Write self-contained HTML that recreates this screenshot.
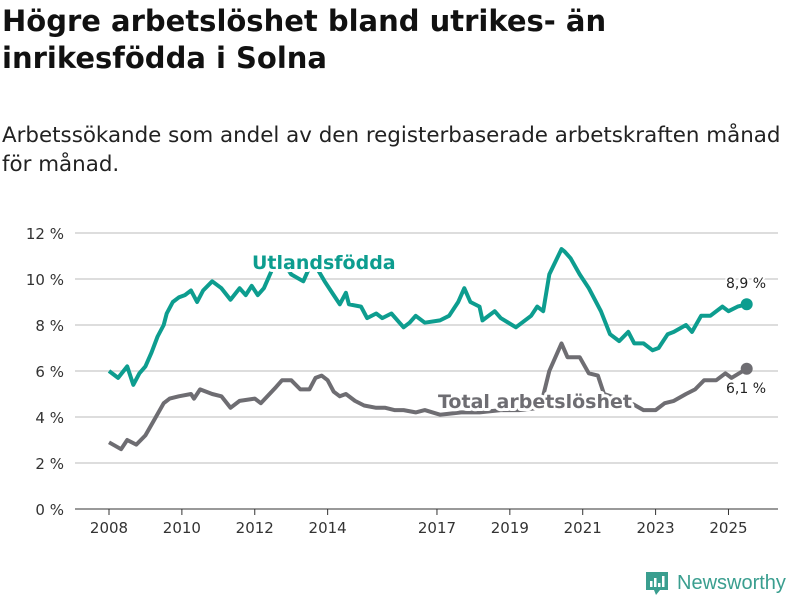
<!DOCTYPE html>
<html><head><meta charset="utf-8"><style>
body{margin:0;background:#fff;width:800px;height:600px;overflow:hidden;font-family:"DejaVu Sans","Liberation Sans",sans-serif;}
h1{position:absolute;left:2px;top:3px;margin:0;font-size:29px;line-height:37px;font-weight:bold;color:#111;width:795px;white-space:nowrap;}
.sub{position:absolute;left:2px;top:121px;font-size:21.4px;line-height:29px;color:#222;width:798px;white-space:nowrap;}
svg{position:absolute;left:0;top:0;}
</style></head><body>
<h1>Högre arbetslöshet bland utrikes- än<br>inrikesfödda i Solna</h1>
<div class="sub">Arbetssökande som andel av den registerbaserade arbetskraften månad<br>för månad.</div>
<svg id="chart" width="800" height="600"></svg>
<script>
const yTicks=[0,2,4,6,8,10,12];
const xTickYears=[2008,2010,2012,2014,2017,2019,2021,2023,2025];
const utlMonths=[0,3,6,8,10,12,14,16,18,19,21,23,25,27,29,31,34,37,40,43,45,47,49,51,54,56,60,64,67,71,74,76,78,79,83,85,88,90,93,95,97,99,101,104,109,112,115,117,119,122,123,127,129,134,139,141,143,145,149,150,152,155,158,162,165,168,171,173,176,179,181,184,186,190,192,195,198,202,204,207,210];
const utlValues=[6.0,5.7,6.2,5.4,5.9,6.2,6.8,7.5,8.0,8.5,9.0,9.2,9.3,9.5,9.0,9.5,9.9,9.6,9.1,9.6,9.3,9.7,9.3,9.6,10.5,11.0,10.2,9.9,10.8,9.9,9.3,8.9,9.4,8.9,8.8,8.3,8.5,8.3,8.5,8.2,7.9,8.1,8.4,8.1,8.2,8.4,9.0,9.6,9.0,8.8,8.2,8.6,8.3,7.9,8.4,8.8,8.6,10.2,11.3,11.2,10.9,10.2,9.6,8.6,7.6,7.3,7.7,7.2,7.2,6.9,7.0,7.6,7.7,8.0,7.7,8.4,8.4,8.8,8.6,8.8,8.9];
const totMonths=[0,4,6,9,12,15,18,20,23,27,28,30,34,37,40,43,48,50,55,57,60,63,66,68,70,72,74,76,78,81,84,88,91,94,97,101,104,109,116,122,129,135,142,145,149,151,155,158,161,163,172,176,180,183,186,190,193,196,200,203,205,210];
const totValues=[2.9,2.6,3.0,2.8,3.2,3.9,4.6,4.8,4.9,5.0,4.8,5.2,5.0,4.9,4.4,4.7,4.8,4.6,5.3,5.6,5.6,5.2,5.2,5.7,5.8,5.6,5.1,4.9,5.0,4.7,4.5,4.4,4.4,4.3,4.3,4.2,4.3,4.1,4.2,4.2,4.3,4.3,4.4,6.0,7.2,6.6,6.6,5.9,5.8,5.0,4.6,4.3,4.3,4.6,4.7,5.0,5.2,5.6,5.6,5.9,5.7,6.1];
const NS='http://www.w3.org/2000/svg';
const svg=document.getElementById('chart');
const xS=m=>109+m*(36.44/12);
const yS=v=>509-v*23;
function el(t,a,p){const e=document.createElementNS(NS,t);for(const k in a)e.setAttribute(k,a[k]);(p||svg).appendChild(e);return e;}
yTicks.forEach(v=>{
  const g=el('line',{x1:75,x2:778,y1:yS(v),y2:yS(v),stroke:v===0?'#333':'#ddd','stroke-width':v===0?1:2});
  
  
  const t=el('text',{x:64,y:yS(v)+6,'text-anchor':'end','font-size':15,fill:'#333'});
  t.textContent=v+' %';
  
  
});
xTickYears.forEach(y=>{
  const x=xS((y-2008)*12);
  const l=el('line',{x1:x,x2:x,y1:509,y2:515,stroke:'#333'});
  
  
  const t=el('text',{x:x,y:533,'text-anchor':'middle','font-size':15,fill:'#333'});
  t.textContent=y;
  
  
});
function series(ms,vs,color,name){
  const d=ms.map((m,i)=>(i?'L':'M')+xS(m).toFixed(1)+','+yS(vs[i]).toFixed(1)).join('');
  const p=el('path',{d:d,fill:'none',stroke:color,'stroke-width':4,'stroke-linejoin':'round'});
  
  
  const n=ms.length-1;
  const c=el('circle',{cx:xS(ms[n]),cy:yS(vs[n]),r:6,fill:color});
  
  
}
series(totMonths,totValues,'#6e6d72','total');
series(utlMonths,utlValues,'#0d9d8f','utlandsfodda');
function label(txt,x,y,color,size,bold,name,anchor){
  const t=el('text',{x:x,y:y,'font-size':size,'font-weight':bold?'bold':'normal',fill:color,stroke:'#fff','stroke-width':bold?6:4,'paint-order':'stroke','stroke-linejoin':'round','text-anchor':anchor||'start'});
  t.textContent=txt;
  
  
}
label('Utlandsfödda',252,269,'#0d9d8f',19,true,'utlandsfodda-label');
label('Total arbetslöshet',438,408,'#6e6d72',19,true,'total-label');
label('8,9 %',746,288,'#222',14,false,'utlandsfodda-end-value','middle');
label('6,1 %',746,393,'#222',14,false,'total-end-value','middle');
const lg=el('g',{});


el('path',{d:'M646,572 h22 v18 h-8 l-4,5 l-2,-5 h-8 z',fill:'#3a9e8f'},lg);
el('rect',{x:650,y:581,width:2.5,height:6,fill:'#fff'},lg);
el('rect',{x:654,y:578,width:2.5,height:9,fill:'#fff'},lg);
el('rect',{x:658,y:583,width:2.5,height:4,fill:'#fff'},lg);
el('rect',{x:662,y:576,width:2.5,height:11,fill:'#fff'},lg);
const lt=el('text',{x:677,y:589,'font-size':20,fill:'#3a9e8f','font-family':'Liberation Sans, sans-serif'},lg);
lt.textContent='Newsworthy';
</script>
</body></html>
